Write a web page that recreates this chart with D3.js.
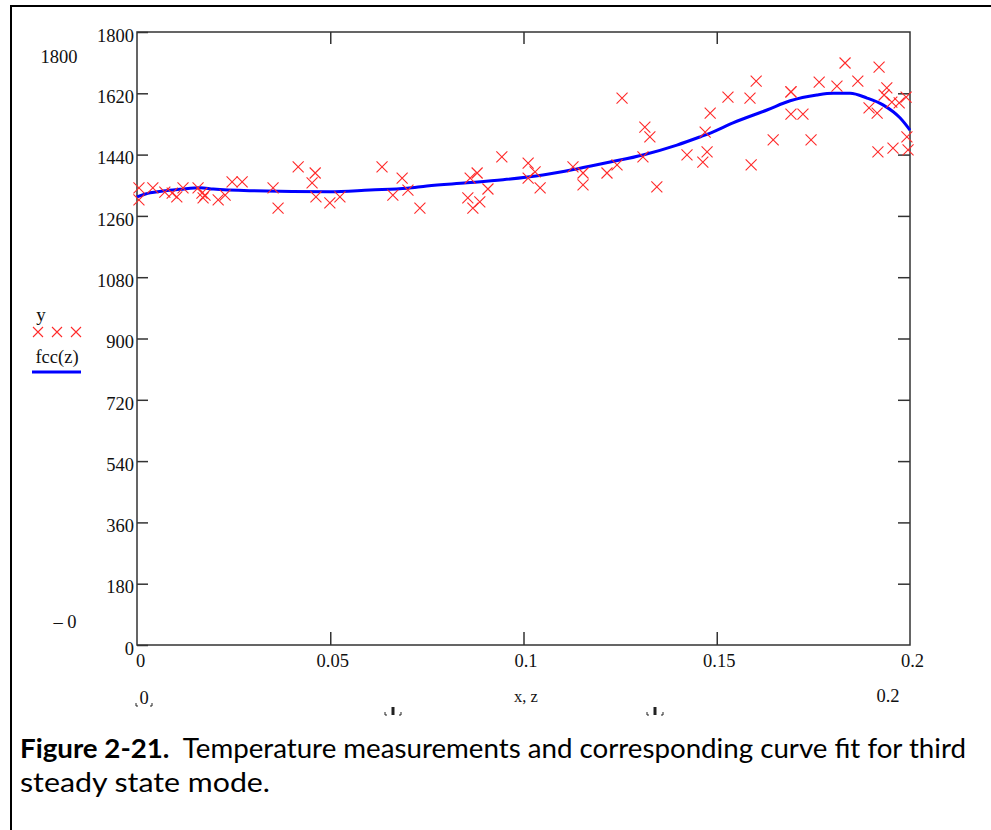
<!DOCTYPE html>
<html lang="en">
<head>
<meta charset="UTF-8">
<title>Figure 2-21</title>
<script src="https://d3js.org/d3.v7.min.js"></script>
<style>
    body { margin: 0; background: #fff; }
    svg { display: block; }
    .mc text { font-family: "Liberation Serif", "Times New Roman", serif; fill: #111; }
    .caption { font-family: Lato, "Open Sans", sans-serif; fill: #000; }
</style>
</head>
<body>
<svg width="991" height="830"></svg>
<script>
    // measured temperatures (x, y)
    const measX = [0.0005, 0.0005, 0.0041, 0.0072, 0.0091, 0.0103, 0.0119, 0.0158, 0.0168, 0.0176,
        0.0171, 0.0210, 0.0228, 0.0246, 0.0272, 0.0352, 0.0365, 0.0417, 0.0461, 0.0453,
        0.0463, 0.0499, 0.0525, 0.0634, 0.0686, 0.0662, 0.0701, 0.0732, 0.0856, 0.0869,
        0.0887, 0.0862, 0.0880, 0.0908, 0.0944, 0.1012, 0.1030, 0.1012, 0.1043, 0.1128,
        0.1154, 0.1154, 0.1216, 0.1242, 0.1255, 0.1314, 0.1327, 0.1309, 0.1345, 0.1423,
        0.1464, 0.1475, 0.1483, 0.1470, 0.1529, 0.1586, 0.1602, 0.1589, 0.1646, 0.1692,
        0.1692, 0.1692, 0.1723, 0.1744, 0.1765, 0.1811, 0.1832, 0.1865, 0.1920, 0.1894,
        0.1915, 0.1917, 0.1956, 0.1940, 0.1933, 0.1953, 0.1972, 0.1990, 0.1992, 0.1995];
    const measY = [1342, 1307, 1342, 1330, 1327, 1316, 1342, 1342, 1327, 1321,
        1313, 1307, 1321, 1360, 1360, 1342, 1283, 1404, 1386, 1357,
        1316, 1298, 1316, 1404, 1371, 1321, 1336, 1283, 1313, 1283,
        1301, 1371, 1386, 1339, 1433, 1415, 1389, 1371, 1342, 1404,
        1386, 1351, 1386, 1410, 1606, 1521, 1492, 1433, 1345, 1439,
        1418, 1448, 1562, 1506, 1609, 1606, 1656, 1410, 1483, 1624,
        1624, 1559, 1559, 1483, 1653, 1641, 1709, 1656, 1697, 1577,
        1562, 1448, 1459, 1636, 1615, 1594, 1592, 1609, 1492, 1454];

    // fitted curve fcc(z)
    const fitZ = [0, 0.0034, 0.0067, 0.0111, 0.0163, 0.0197, 0.0292, 0.0499, 0.0603, 0.0699,
        0.0750, 0.0854, 0.0947, 0.1050, 0.1138, 0.1224, 0.1309, 0.1397, 0.1459, 0.1485,
        0.1542, 0.1630, 0.1690, 0.1759, 0.1801, 0.1845, 0.1889, 0.1930, 0.1974, 0.2];
    const fitF = [1316, 1328, 1333, 1338, 1343, 1339, 1334, 1331, 1336, 1341,
        1348, 1357, 1366, 1380, 1398, 1418, 1439, 1468, 1493, 1504,
        1533, 1571, 1598, 1615, 1620, 1620, 1606, 1586, 1548, 1512];

    const yTicks = [0, 180, 360, 540, 720, 900, 1080, 1260, 1440, 1620, 1800];
    const xTicks = [0, 0.05, 0.1, 0.15, 0.2];
    const xTickLabels = ["0", "0.05", "0.1", "0.15", "0.2"];

    const svg = d3.select("svg");

    // outer figure box
    svg.append("rect")
        .attr("x", 11).attr("y", 6)
        .attr("width", 1000).attr("height", 900)
        .attr("fill", "none").attr("stroke", "#000").attr("stroke-width", 2);

    const x = d3.scaleLinear().domain([0, 0.2]).range([137, 910]);
    const y = d3.scaleLinear().domain([0, 1800]).range([645, 32]);

    const g = svg.append("g").attr("class", "mc");

    // frame
    g.append("rect")
        .attr("x", x(0)).attr("y", y(1800))
        .attr("width", x(0.2) - x(0)).attr("height", y(0) - y(1800))
        .attr("fill", "none").attr("stroke", "#333").attr("stroke-width", 1.5);

    // left axis with labels, ticks pointing inward
    const yAxis = g.append("g")
        .attr("transform", `translate(${x(0)},0)`)
        .call(d3.axisLeft(y).tickValues(yTicks).tickSize(-11).tickPadding(3).tickSizeOuter(0)
            .tickFormat(d3.format("d")));
    yAxis.select(".domain").remove();
    yAxis.selectAll(".tick line").attr("stroke", "#333").attr("stroke-width", 1.5);
    yAxis.selectAll(".tick text").attr("font-size", 18.5).attr("dy", "0.5em")
        .attr("font-family", "Liberation Serif").attr("fill", "#111");

    // right ticks
    g.append("g")
        .attr("transform", `translate(${x(0.2)},0)`)
        .call(d3.axisRight(y).tickValues(yTicks.slice(1, -1)).tickSize(-12).tickFormat(""))
        .call(a => a.select(".domain").remove())
        .selectAll(".tick line").attr("stroke", "#333").attr("stroke-width", 1.5);

    // bottom axis
    const xAxis = g.append("g")
        .attr("transform", `translate(0,${y(0)})`)
        .call(d3.axisBottom(x).tickValues(xTicks).tickSize(-13).tickPadding(9).tickSizeOuter(0)
            .tickFormat((d, i) => xTickLabels[i]));
    xAxis.select(".domain").remove();
    xAxis.selectAll(".tick line")
        .attr("stroke", "#333").attr("stroke-width", 1.5)
        .attr("display", d => (d === 0 || d === 0.2) ? "none" : null);
    xAxis.selectAll(".tick text").attr("font-size", 18.5)
        .attr("font-family", "Liberation Serif").attr("fill", "#111")
        .attr("dx", d => d === 0 ? 3 : 2);

    // top ticks
    g.append("g")
        .attr("transform", `translate(0,${y(1800)})`)
        .call(d3.axisTop(x).tickValues(xTicks.slice(1, -1)).tickSize(-12).tickFormat(""))
        .call(a => a.select(".domain").remove())
        .selectAll(".tick line").attr("stroke", "#333").attr("stroke-width", 1.5);

    // fitted curve
    const line = d3.line()
        .x((d, i) => x(fitZ[i]))
        .y(d => y(d))
        .curve(d3.curveMonotoneX);
    g.append("path")
        .datum(fitF)
        .attr("d", line)
        .attr("fill", "none")
        .attr("stroke", "#0000ff")
        .attr("stroke-width", 3);

    // measurement markers
    const s = 5.5;
    g.append("g").selectAll("path")
        .data(measX)
        .join("path")
        .attr("d", (d, i) => {
            const cx = x(d), cy = y(measY[i]);
            return `M${cx - s},${cy - s}L${cx + s},${cy + s}M${cx - s},${cy + s}L${cx + s},${cy - s}`;
        })
        .attr("stroke", "#ff2a2a")
        .attr("stroke-width", 1.1)
        .attr("fill", "none");

    // legend / mathcad labels
    const lab = (tx, ty, str, size, anchor) => g.append("text")
        .attr("x", tx).attr("y", ty).attr("font-size", size || 18.5)
        .attr("text-anchor", anchor || "start").text(str);

    lab(59, 63, "1800", 18.5, "middle");
    lab(65, 628, "\u2013 0", 18.5, "middle");
    lab(41, 321, "y", 19, "middle");
    [38, 57, 76].forEach(cx => {
        g.append("path")
            .attr("d", `M${cx - 5},${327}L${cx + 5},${337}M${cx - 5},${337}L${cx + 5},${327}`)
            .attr("stroke", "#ff2a2a").attr("stroke-width", 1.1);
    });
    lab(57, 363, "fcc(z)", 18.5, "middle");
    g.append("line")
        .attr("x1", 32).attr("x2", 81).attr("y1", 372).attr("y2", 372)
        .attr("stroke", "#0000ff").attr("stroke-width", 3);

    lab(144, 704, "0", 18.5, "middle");
    lab(526, 702, "x, z", 16.5, "middle");
    lab(888, 702, "0.2", 18.5, "middle");

    // placeholder marks
    [[144, 706], [393, 715], [655, 715]].forEach(([px, py]) => {
        const m = g.append("g").attr("transform", `translate(${px},${py})`);
        if (px !== 144) m.append("rect").attr("x", -1.5).attr("y", -8).attr("width", 3).attr("height", 8).attr("fill", "#222");
        m.append("path").attr("d", "M-8,-3V0H-6M8,-3V0H6")
            .attr("fill", "none").attr("stroke", "#222").attr("stroke-width", 1);
    });

    // caption
    const cap1 = svg.append("text").attr("class", "caption")
        .attr("x", 20).attr("y", 758).attr("font-size", 26);
    cap1.append("tspan").attr("font-weight", "bold").text("Figure 2-21.");
    cap1.append("tspan").text("\u00a0 Temperature measurements and corresponding curve fit for third");
    cap1.attr("textLength", 946).attr("lengthAdjust", "spacingAndGlyphs");

    svg.append("text").attr("class", "caption")
        .attr("x", 20).attr("y", 792).attr("font-size", 26)
        .attr("textLength", 250).attr("lengthAdjust", "spacingAndGlyphs")
        .text("steady state mode.");
</script>
</body>
</html>
